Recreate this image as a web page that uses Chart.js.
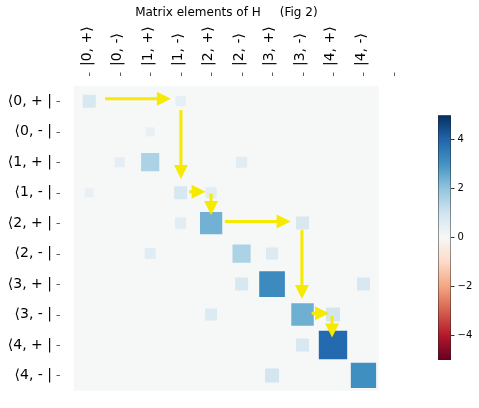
<!DOCTYPE html>
<html>
<head>
<meta charset="utf-8">
<script src="https://cdn.jsdelivr.net/npm/chart.js@4.4.0/dist/chart.umd.min.js"></script>
<style>
  html, body { margin: 0; padding: 0; background: #fff; }
  #wrap { position: relative; width: 479px; height: 408px; }
  #matrix { position: absolute; left: 0; top: 0; width: 479px; height: 408px; }
  #cbar { position: absolute; left: 430px; top: 105px; width: 49px; height: 265px; }
</style>
</head>
<body>
<div id="wrap">
  <canvas id="matrix" width="479" height="408"></canvas>
  <canvas id="cbar" width="49" height="265"></canvas>
</div>
<script>
// kolom (ket) dan baris (bra)
const colLabels = ['|0, +⟩', '|0, -⟩', '|1, +⟩', '|1, -⟩', '|2, +⟩', '|2, -⟩', '|3, +⟩', '|3, -⟩', '|4, +⟩', '|4, -⟩'];
const rowLabels = ['⟨0, + |', '⟨0, - |', '⟨1, + |', '⟨1, - |', '⟨2, + |', '⟨2, - |', '⟨3, + |', '⟨3, - |', '⟨4, + |', '⟨4, - |'];
const xTickValues = [0, 1, 2, 3, 4, 5, 6, 7, 8, 9, 10];

// elemen matriks yang tidak nol
const cellRows = [0, 0, 1, 2, 2, 2, 3, 3, 3, 4, 4, 4, 5, 5, 5, 6, 6, 6, 7, 7, 7, 8, 8, 9, 9];
const cellCols = [0, 3, 2, 1, 2, 5, 0, 3, 4, 3, 4, 7, 2, 5, 6, 5, 6, 9, 4, 7, 8, 7, 8, 6, 9];
const cellValues = [0.82, 0.48, 0.39, 0.48, 1.6, 0.59, 0.39, 0.82, 0.59, 0.59, 2.4, 0.82,
                    0.59, 1.6, 0.7, 0.82, 3.2, 0.82, 0.7, 2.45, 0.95, 0.82, 3.9, 0.95, 3.1];

// colorbar
const cbarTicks = [-4, -2, 0, 2, 4];

// panah kuning (koordinat data: [kolom, baris])
const arrowStart = [[0.52, -0.08], [3.01, 0.29], [3.28, 2.97], [4.0, 3.04], [4.45, 3.95], [6.98, 4.23], [7.3, 6.96], [7.97, 7.05]];
const arrowEnd   = [[2.68, -0.08], [3.01, 2.55], [3.82, 2.97], [4.0, 3.73], [6.61, 3.95], [6.98, 6.49], [7.87, 6.96], [7.97, 7.75]];

Chart.defaults.font.family = 'DejaVu Sans';
Chart.defaults.color = '#000';

const rdbu = ['#67001f', '#b2182b', '#d6604d', '#f4a582', '#fddbc7', '#f7f7f7',
              '#d1e5f0', '#92c5de', '#4393c3', '#2166ac', '#053061'];

function hexToRgb(h) {
  return [parseInt(h.slice(1, 3), 16), parseInt(h.slice(3, 5), 16), parseInt(h.slice(5, 7), 16)];
}

function cmap(v) {
  let t = (v + 5) / 10 * (rdbu.length - 1);
  t = Math.max(0, Math.min(rdbu.length - 1, t));
  const i = Math.min(Math.floor(t), rdbu.length - 2);
  const f = t - i;
  const a = hexToRgb(rdbu[i]), b = hexToRgb(rdbu[i + 1]);
  const c = a.map((x, k) => Math.round(x + (b[k] - x) * f));
  return 'rgb(' + c.join(',') + ')';
}

// latar belakang area plot (nilai 0)
const bgPlugin = {
  id: 'bgPlugin',
  beforeDatasetsDraw(chart) {
    const { ctx, chartArea: a } = chart;
    ctx.save();
    ctx.fillStyle = '#f6f7f7';
    ctx.fillRect(a.left, a.top, a.right - a.left, a.bottom - a.top);
    ctx.restore();
  }
};

// tanda tick yang terpisah dari area plot
const tickMarks = {
  id: 'tickMarks',
  afterDraw(chart) {
    const { ctx, chartArea: a, scales: { x, y } } = chart;
    ctx.save();
    ctx.strokeStyle = '#333';
    ctx.lineWidth = 0.8;
    ctx.beginPath();
    xTickValues.forEach(v => {
      const px = Math.round(x.getPixelForValue(v)) + 0.5;
      ctx.moveTo(px, a.top - 13.5);
      ctx.lineTo(px, a.top - 10);
    });
    rowLabels.forEach((_, i) => {
      const py = Math.round(y.getPixelForValue(i)) + 0.5;
      ctx.moveTo(a.left - 17.5, py);
      ctx.lineTo(a.left - 14, py);
    });
    ctx.stroke();
    ctx.restore();
  }
};

// panah
const arrowPlugin = {
  id: 'arrowPlugin',
  afterDatasetsDraw(chart) {
    const { ctx, scales: { x, y } } = chart;
    const shaft = 1.5, headW = 7, headL = 14;
    ctx.save();
    ctx.fillStyle = '#f6ea00';
    arrowStart.forEach((s, i) => {
      const e = arrowEnd[i];
      const x0 = x.getPixelForValue(s[0]), y0 = y.getPixelForValue(s[1]);
      const x1 = x.getPixelForValue(e[0]), y1 = y.getPixelForValue(e[1]);
      const len = Math.hypot(x1 - x0, y1 - y0);
      const ux = (x1 - x0) / len, uy = (y1 - y0) / len;
      const nx = -uy, ny = ux;
      const bx = x1 - ux * headL, by = y1 - uy * headL;
      ctx.beginPath();
      ctx.moveTo(x0 + nx * shaft, y0 + ny * shaft);
      ctx.lineTo(bx + nx * shaft, by + ny * shaft);
      ctx.lineTo(bx + nx * headW, by + ny * headW);
      ctx.lineTo(x1, y1);
      ctx.lineTo(bx - nx * headW, by - ny * headW);
      ctx.lineTo(bx - nx * shaft, by - ny * shaft);
      ctx.lineTo(x0 - nx * shaft, y0 - ny * shaft);
      ctx.closePath();
      ctx.fill();
    });
    ctx.restore();
  }
};

const cells = cellValues.map((v, i) => ({ x: cellCols[i], y: cellRows[i], v: v }));

new Chart(document.getElementById('matrix'), {
  type: 'scatter',
  data: {
    datasets: [{
      data: cells,
      pointStyle: 'rect',
      borderWidth: 0,
      backgroundColor: c => c.raw ? cmap(c.raw.v) : '#000',
      pointRadius: c => {
        if (!c.raw) return 0;
        const s = c.chart.scales.x;
        const cell = Math.abs(s.getPixelForValue(1) - s.getPixelForValue(0));
        return cell * Math.sqrt(Math.abs(c.raw.v) / 4.5) / Math.SQRT2;
      }
    }]
  },
  options: {
    responsive: false,
    animation: false,
    events: [],
    layout: { padding: { left: 0, right: 100.3, top: 0, bottom: 17.3 } },
    plugins: {
      legend: { display: false },
      tooltip: { enabled: false },
      title: {
        display: true,
        text: 'Matrix elements of H     (Fig 2)',
        fullSize: false,
        font: { size: 12, weight: 'normal' },
        color: '#000',
        padding: { top: 6, bottom: 0 }
      }
    },
    scales: {
      x: {
        type: 'linear',
        position: 'top',
        min: -0.5,
        max: 9.5,
        afterBuildTicks: s => { s.ticks = colLabels.map((_, i) => ({ value: i })); },
        afterFit: s => { s.height = 65.6; s.paddingLeft = 0; s.paddingRight = 0; },
        ticks: {
          autoSkip: false,
          minRotation: 90,
          maxRotation: 90,
          padding: 20,
          labelOffset: 14.5,
          font: { size: 14 },
          color: '#000',
          callback: (v, i) => colLabels[i]
        },
        grid: { display: false, drawTicks: false },
        border: { display: false }
      },
      y: {
        type: 'linear',
        reverse: true,
        min: -0.5,
        max: 9.5,
        afterBuildTicks: s => { s.ticks = rowLabels.map((_, i) => ({ value: i })); },
        afterFit: s => { s.width = 74; s.paddingTop = 0; s.paddingBottom = 0; },
        ticks: {
          autoSkip: false,
          padding: 22,
          font: { size: 14 },
          color: '#000',
          callback: (v, i) => rowLabels[i]
        },
        grid: { display: false, drawTicks: false },
        border: { display: false }
      }
    }
  },
  plugins: [bgPlugin, arrowPlugin, tickMarks]
});

// === Colorbar ===
new Chart(document.getElementById('cbar'), {
  type: 'bar',
  data: {
    labels: [''],
    datasets: [{
      data: [[-5, 5]],
      barPercentage: 1,
      categoryPercentage: 1,
      borderColor: '#222',
      borderWidth: 0.8,
      borderSkipped: false,
      backgroundColor: c => {
        const a = c.chart.chartArea;
        if (!a) return '#f7f7f7';
        const g = c.chart.ctx.createLinearGradient(0, a.bottom, 0, a.top);
        rdbu.forEach((col, i) => g.addColorStop(i / (rdbu.length - 1), col));
        return g;
      }
    }]
  },
  options: {
    responsive: false,
    animation: false,
    events: [],
    layout: { padding: { left: 8, right: 0, top: 10.3, bottom: 10 } },
    plugins: { legend: { display: false }, tooltip: { enabled: false } },
    scales: {
      x: { display: false },
      y: {
        position: 'right',
        min: -5,
        max: 5,
        afterBuildTicks: s => { s.ticks = cbarTicks.map(v => ({ value: v })); },
        afterFit: s => { s.width = 28; s.paddingTop = 0; s.paddingBottom = 0; },
        ticks: {
          padding: 3,
          font: { size: 10 },
          color: '#000',
          callback: v => v < 0 ? '\u2212' + Math.abs(v) : String(v)
        },
        grid: { drawOnChartArea: false, tickLength: 3.5, color: '#000', lineWidth: 0.8 },
        border: { display: false }
      }
    }
  }
});
</script>
</body>
</html>
